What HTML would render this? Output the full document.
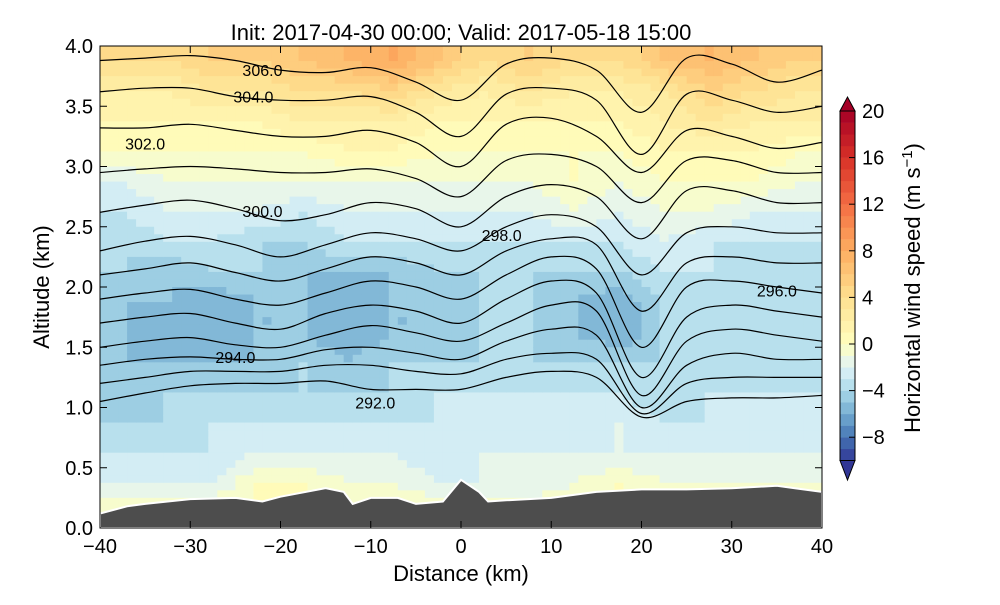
<!DOCTYPE html>
<html><head><meta charset="utf-8"><style>
body{margin:0;background:#fff;}
text{font-family:"Liberation Sans",sans-serif;}
</style></head><body>
<svg id="svg" width="1000" height="600" xmlns="http://www.w3.org/2000/svg">
<rect width="1000" height="600" fill="#fff"/>
<defs><clipPath id="clip"><rect x="100" y="46" width="722" height="482"/></clipPath></defs>
<g id="field" clip-path="url(#clip)"></g>
<g id="contours" clip-path="url(#clip)"></g>
<g id="terrain" clip-path="url(#clip)"></g>
<g id="labels"></g>
<rect x="100" y="46" width="722" height="482" fill="none" stroke="#000" stroke-width="1"/>
<g id="axes"></g>
<g id="cbar"></g>
<text x="461" y="40" font-size="22" text-anchor="middle">Init: 2017-04-30 00:00; Valid: 2017-05-18 15:00</text>
<text x="461" y="581" font-size="22" text-anchor="middle">Distance (km)</text>
<text transform="translate(49,287) rotate(-90)" font-size="22" text-anchor="middle">Altitude (km)</text>
<text transform="translate(920,288) rotate(-90)" font-size="22" text-anchor="middle">Horizontal wind speed (m s<tspan dy="-8" font-size="15">−1</tspan><tspan dy="8">)</tspan></text>
</svg>
<script>
const xTicks=[-40,-30,-20,-10,0,10,20,30,40];
const yTicks=[0.0,0.5,1.0,1.5,2.0,2.5,3.0,3.5,4.0];
const cbTicks=[-8,-4,0,4,8,12,16,20];
const colX=[-37.5,-32.5,-27.5,-22.5,-17.5,-12.5,-7.5,-2.5,2.5,7.5,12.5,17.5,22.5,27.5,32.5,37.5];
const rowZ=[3.875,3.625,3.375,3.125,2.875,2.625,2.375,2.125,1.875,1.625,1.375,1.125,0.875,0.625,0.375,0.125];
const speed=[
[4,4,5,5,6,7,8,6,4,5,4,4,6,7,6,5],
[2,2,3,3,4,4,5,3,2,3,2,2,3,5,4,3],
[1,1,1,1,2,2,2,1,1,1,1,1,2,3,2,2],
[0,0,0,0,0,1,1,0,0,0,0,0,1,1,1,0],
[-2,-1,-1,-1,-1,-1,-1,-1,-1,-1,0,-1,0,0,0,-1],
[-3,-2,-2,-2,-3,-2,-2,-2,-2,-2,-1,-2,-1,-1,-2,-2],
[-4,-3,-3,-4,-4,-3,-3,-3,-3,-3,-3,-3,-2,-3,-3,-3],
[-4,-5,-4,-4,-5,-5,-5,-4,-4,-4,-4,-4,-3,-3,-4,-4],
[-5,-5,-6,-5,-5,-6,-5,-5,-4,-4,-5,-6,-4,-4,-4,-4],
[-5,-6,-6,-5,-5,-6,-5,-5,-4,-4,-5,-6,-4,-4,-4,-4],
[-5,-5,-5,-5,-4,-5,-4,-4,-4,-4,-4,-4,-4,-4,-4,-4],
[-5,-4,-4,-4,-4,-4,-4,-3,-3,-3,-3,-3,-4,-3,-3,-3],
[-4,-4,-3,-3,-3,-3,-3,-3,-3,-3,-3,-2,-3,-3,-3,-3],
[-3,-3,-3,-2,-2,-2,-2,-3,-2,-2,-2,-2,-2,-2,-2,-2],
[-2,-2,-2,0,0,-1,-1,-2,-2,-2,-1,0,-1,-1,-1,-1],
[0,0,0,0,0,0,0,0,0,0,0,0,0,0,0,0]];
const lineX=[-40,-35,-30,-25,-20,-15,-10,-5,0,5,10,15,20,25,30,35,40];
const L306=[3.88,3.90,3.92,3.88,3.80,3.78,3.82,3.70,3.55,3.85,3.90,3.80,3.45,3.90,3.85,3.70,3.80];
const L304=[3.62,3.65,3.65,3.58,3.55,3.55,3.58,3.45,3.25,3.60,3.65,3.55,3.10,3.60,3.55,3.45,3.50];
const L302=[3.32,3.32,3.35,3.30,3.25,3.25,3.30,3.20,3.00,3.35,3.40,3.25,2.95,3.30,3.25,3.15,3.20];
const L301=[2.95,2.98,3.00,2.98,2.95,2.95,2.98,2.90,2.75,3.05,3.10,3.00,2.70,3.05,3.05,2.95,2.95];
const L300=[2.62,2.68,2.72,2.65,2.55,2.60,2.70,2.65,2.50,2.75,2.85,2.75,2.40,2.80,2.80,2.70,2.70];
const L298=[2.30,2.38,2.42,2.35,2.25,2.35,2.45,2.40,2.30,2.50,2.60,2.50,2.10,2.45,2.50,2.45,2.45];
const L297=[2.10,2.15,2.20,2.12,2.05,2.15,2.25,2.20,2.10,2.30,2.40,2.35,1.80,2.20,2.25,2.20,2.20];
const L296=[1.90,1.95,1.98,1.90,1.85,1.95,2.05,2.00,1.90,2.10,2.25,2.15,1.50,2.00,2.05,2.00,1.95];
const L295=[1.70,1.75,1.78,1.70,1.65,1.78,1.85,1.80,1.70,1.90,2.05,1.95,1.25,1.75,1.85,1.80,1.75];
const L2945=[1.50,1.55,1.58,1.52,1.50,1.60,1.68,1.62,1.55,1.70,1.85,1.80,1.10,1.55,1.65,1.60,1.55];
const L294=[1.35,1.40,1.42,1.40,1.40,1.48,1.50,1.45,1.40,1.55,1.65,1.60,1.00,1.35,1.45,1.40,1.40];
const L293=[1.20,1.25,1.30,1.30,1.30,1.35,1.35,1.30,1.28,1.40,1.45,1.40,0.95,1.20,1.25,1.25,1.25];
const L292=[1.05,1.12,1.18,1.20,1.20,1.22,1.15,1.15,1.15,1.25,1.30,1.25,0.92,1.05,1.08,1.08,1.10];
const contourLines=[L306,L304,L302,L301,L300,L298,L297,L296,L295,L2945,L294,L293,L292];
const labelText=["306.0","304.0","302.0","300.0","298.0","296.0","294.0","292.0"];
const labelX=[-22,-23,-35,-22,4.5,35,-25,-9.5];
const labelZ=[3.8,3.58,3.19,2.63,2.43,1.97,1.42,1.04];
const groundX=[-40,-37,-35,-30,-25,-22,-20,-15,-13,-12,-10,-7,-5,-2,0,2,3,5,10,15,20,25,30,35,37,40];
const groundZ=[0.12,0.18,0.2,0.24,0.25,0.22,0.26,0.33,0.3,0.2,0.25,0.25,0.2,0.22,0.4,0.3,0.22,0.23,0.25,0.3,0.32,0.32,0.33,0.35,0.33,0.3];

const NS="http://www.w3.org/2000/svg";
const X=v=>100+(v+40)*722/80;
const Y=z=>528-z*482/4;
const CB=v=>344-v*11.65;
function mk(t,a,p){const e=document.createElementNS(NS,t);for(const k in a)e.setAttribute(k,a[k]);p.appendChild(e);return e;}
const stops=[[49,54,149],[69,117,180],[116,173,209],[171,217,233],[224,243,248],[255,255,191],[254,224,144],[253,174,97],[244,109,67],[215,48,39],[165,0,38]];
function cmapT(t){t=Math.max(0,Math.min(1,t));const f=t*10,i=Math.min(9,Math.floor(f)),r=f-i;const a=stops[i],b=stops[i+1];return`rgb(${a.map((c,k)=>Math.round(c+(b[k]-c)*r)).join(',')})`;}
function color(v){const b=Math.floor(v)+0.5;const t=b<0?0.5+b/20:0.5+b/40;return cmapT(t);}
const field=document.getElementById('field');
function sample(x,z){
  let fx=(x-colX[0])/5, fz=(rowZ[0]-z)/0.25;
  fx=Math.max(0,Math.min(15,fx));fz=Math.max(0,Math.min(15,fz));
  const i=Math.min(14,Math.floor(fx)),j=Math.min(14,Math.floor(fz));const u=fx-i,w=fz-j;
  return speed[j][i]*(1-u)*(1-w)+speed[j][i+1]*u*(1-w)+speed[j+1][i]*(1-u)*w+speed[j+1][i+1]*u*w;
}
const NX=80,NZ=64;
for(let a=0;a<NX;a++)for(let b=0;b<NZ;b++){
  const x0=-40+a*80/NX,z1=4-b*4/NZ;
  const v=sample(x0+40/NX,z1-2/NZ);
  const r=mk('rect',{x:X(x0).toFixed(2),y:Y(z1).toFixed(2),width:(722/NX+0.6).toFixed(2),height:(482/NZ+0.6).toFixed(2),fill:color(v)},field);
  
  
}
function smoothPath(xs,zs){
  const P=xs.map((x,i)=>[X(x),Y(zs[i])]);
  let d='M'+P[0][0].toFixed(1)+','+P[0][1].toFixed(1);
  for(let i=0;i<P.length-1;i++){
    const p0=P[Math.max(0,i-1)],p1=P[i],p2=P[i+1],p3=P[Math.min(P.length-1,i+2)];
    const c1=[p1[0]+(p2[0]-p0[0])/6,p1[1]+(p2[1]-p0[1])/6];
    const c2=[p2[0]-(p3[0]-p1[0])/6,p2[1]-(p3[1]-p1[1])/6];
    d+=`C${c1[0].toFixed(1)},${c1[1].toFixed(1)} ${c2[0].toFixed(1)},${c2[1].toFixed(1)} ${p2[0].toFixed(1)},${p2[1].toFixed(1)}`;
  }
  return d;
}
const cg=document.getElementById('contours');
contourLines.forEach((L,k)=>{
  const p=mk('path',{d:smoothPath(lineX,L),fill:'none',stroke:'#000','stroke-width':1.2},cg);
  
  
});
const tg=document.getElementById('terrain');
let td='M'+X(-40)+','+Y(0);
groundX.forEach((x,i)=>{td+='L'+X(x).toFixed(1)+','+Y(groundZ[i]).toFixed(1);});
td+='L'+X(40)+','+Y(0)+'Z';
const tp=mk('path',{d:td,fill:'#4d4d4d',stroke:'#fff','stroke-width':2},tg);


const lg=document.getElementById('labels');
labelText.forEach((s,i)=>{
  const t=mk('text',{x:X(labelX[i]),y:Y(labelZ[i])+6,'font-size':16,'text-anchor':'middle'},lg);
  t.textContent=s;
  
  
});
const ax=document.getElementById('axes');
xTicks.forEach(v=>{
  mk('line',{x1:X(v),x2:X(v),y1:528,y2:521,stroke:'#000'},ax);
  mk('line',{x1:X(v),x2:X(v),y1:46,y2:53,stroke:'#000'},ax);
  const t=mk('text',{x:X(v),y:553,'font-size':20,'text-anchor':'middle'},ax);
  t.textContent=(v<0?'−':'')+Math.abs(v);
  
  
});
yTicks.forEach(v=>{
  mk('line',{x1:100,x2:107,y1:Y(v),y2:Y(v),stroke:'#000'},ax);
  mk('line',{x1:822,x2:815,y1:Y(v),y2:Y(v),stroke:'#000'},ax);
  const t=mk('text',{x:93,y:Y(v)+7,'font-size':20,'text-anchor':'end'},ax);
  t.textContent=v.toFixed(1);
  
  
});
const cb=document.getElementById('cbar');
for(let v=-10;v<20;v++){
  const r=mk('rect',{x:840,y:CB(v+1),width:15,height:11.9,fill:color(v+0.5)},cb);
  
  
}
mk('path',{d:`M840,${CB(20)}L847.5,97L855,${CB(20)}Z`,fill:color(20.5),stroke:'#000'},cb);
mk('path',{d:`M840,${CB(-10)}L847.5,480L855,${CB(-10)}Z`,fill:color(-10.5),stroke:'#000'},cb);
mk('rect',{x:840,y:CB(20),width:15,height:CB(-10)-CB(20),fill:'none',stroke:'#000'},cb);
cbTicks.forEach(v=>{
  mk('line',{x1:849,x2:855,y1:CB(v),y2:CB(v),stroke:'#000'},cb);
  const t=mk('text',{x:862,y:CB(v)+7,'font-size':20},cb);
  t.textContent=(v<0?'−':'')+Math.abs(v);
  
  
});
</script>
</body></html>
